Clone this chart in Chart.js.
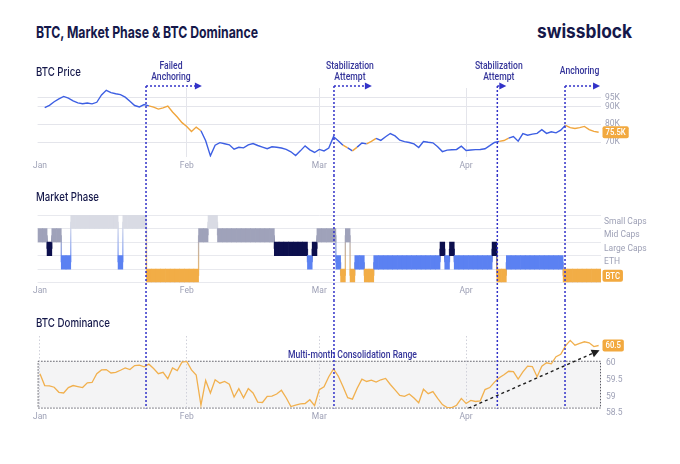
<!DOCTYPE html>
<html>
<head>
<meta charset="utf-8">
<script src="https://cdn.jsdelivr.net/npm/chart.js@4.4.1/dist/chart.umd.min.js"></script>
<style>
  html, body { margin: 0; padding: 0; background: #fff; }
  body { width: 680px; height: 464px; position: relative; overflow: hidden; font-family: Inter, Roboto, sans-serif; color: #15184a; }
  canvas { position: absolute; left: 0; }
  .txt { position: absolute; white-space: nowrap; transform-origin: left center; }
  #title { left: 36px; top: 24px; font-size: 16px; line-height: 16px; font-weight: 700; }
  #logo { left: 537px; top: 22px; font-size: 19px; line-height: 19px; font-weight: 700; }
  .ptitle { left: 36px; font-size: 12px; line-height: 12px; font-weight: 500; }
</style>
</head>
<body>
<canvas id="price" width="680" height="120" style="top:55px"></canvas>
<canvas id="phase" width="680" height="125" style="top:175px"></canvas>
<canvas id="dom" width="680" height="164" style="top:300px"></canvas>
<div id="title" class="txt" data-w="222">BTC, Market Phase &amp; BTC Dominance</div>
<div id="logo" class="txt" data-w="95">swissblock</div>
<div class="txt ptitle" style="top:66px" data-w="45">BTC Price</div>
<div class="txt ptitle" style="top:191px" data-w="63">Market Phase</div>
<div class="txt ptitle" style="top:317px" data-w="74">BTC Dominance</div>
<script>
// months on the shared day axis (day 0 = Jan 1)
const monthStarts = [0, 31, 59, 90];
const monthLabels = ["Jan", "Feb", "Mar", "Apr"];

// BTC price, thousands of USD, one per day (no print on day 0)
const priceK = [
  null, 89.3, 90.6, 92.6, 94.2, 95.6, 94.6, 93.1, 92.0, 91.5,
  91.9, 91.4, 92.3, 96.4, 99.0, 97.7, 97.1, 96.6, 95.2, 92.9,
  90.5, 89.7, 91.0, 90.3, 89.6, 88.5, 89.2, 90.2, 86.9, 84.1,
  80.9, 78.7, 75.9, 78.4, 76.4, 70.8, 62.3, 68.3, 69.7, 69.1,
  68.5, 66.0, 67.1, 66.8, 68.5, 69.2, 68.1, 67.2, 66.3, 67.4,
  67.1, 66.7, 65.9, 64.6, 62.5, 65.1, 67.9, 65.7, 64.2, 65.9,
  65.1, 66.7, 73.0, 70.8, 68.3, 66.8, 65.1, 67.2, 69.5, 69.0,
  70.4, 72.1, 71.0, 73.0, 74.8, 73.5, 71.1, 70.3, 69.8, 69.0,
  67.0, 70.3, 69.9, 69.6, 67.4, 64.7, 65.5, 65.7, 65.9, 67.7,
  65.3, 65.6, 65.8, 65.9, 66.3, 68.0, 69.8, 70.4, 70.9, 72.2,
  73.1, 70.5, 74.8, 73.9, 74.5, 74.9, 77.0, 74.9, 75.8, 75.2,
  76.7, 79.4, 78.1, 77.6, 78.1, 78.8, 77.0, 76.0, 75.5
];
const priceTicks = [70, 80, 90, 95];

// market phase per day: S small caps, M mid caps, L large caps, E ETH, B BTC
const phase = [
  "M","M","L","M","M","E","E","S","S","S",
  "S","S","S","S","S","S","S","E","S","S",
  "S","S","S","B","B","B","B","B","B","B",
  "B","B","B","B","M","M","S","S","M","M",
  "M","M","M","M","M","M","M","M","M","M",
  "L","L","L","L","L","L","L","E","L","M",
  "M","M","M","E","B","M","B","E","E","B",
  "B","E","E","E","E","E","E","E","E","E",
  "E","E","E","E","E","L","E","L","E","E",
  "E","E","E","E","E","E","L","B","B","E",
  "E","E","E","E","E","E","E","E","E","E",
  "E","B","B","B","B","B","B","B","B"
];
const phaseCodes = ["B", "E", "L", "M", "S"];
const phaseRows = ["BTC", "ETH", "Large Caps", "Mid Caps", "Small Caps"];

// BTC dominance, %, one per day
const dominance = [
  59.67, 59.32, 59.31, 59.27, 59.12, 59.10, 59.26, 59.32, 59.29, 59.26,
  59.40, 59.41, 59.67, 59.78, 59.79, 59.69, 59.71, 59.77, 59.84, 59.79,
  59.91, 59.92, 59.87, 59.95, 59.82, 59.67, 59.71, 59.52, 59.84, 59.76,
  60.01, 60.03, 59.78, 59.63, 58.74, 59.47, 59.10, 59.49, 59.39, 59.44,
  59.36, 58.98, 59.23, 58.96, 59.23, 59.10, 58.83, 58.82, 59.00, 59.01,
  59.07, 59.18, 58.96, 58.70, 58.74, 58.78, 58.79, 58.90, 58.73, 59.20,
  59.28, 59.58, 59.81, 59.60, 59.29, 58.96, 58.92, 59.24, 59.51, 59.44,
  59.48, 59.42, 59.49, 59.53, 59.35, 59.19, 59.03, 59.00, 59.07, 58.95,
  58.81, 59.21, 59.08, 59.14, 58.94, 58.76, 58.67, 58.67, 58.74, 58.94,
  58.79, 58.88, 58.85, 58.87, 59.20, 59.26, 59.42, 59.55, 59.64, 59.74,
  59.73, 59.51, 59.72, 59.89, 59.88, 59.58, 59.89, 59.99, 59.96, 60.17,
  60.24, 60.49, 60.65, 60.51, 60.56, 60.61, 60.58, 60.47, 60.5
];
const domTicks = [58.5, 59, 59.5, 60];
const rangeLow = 58.67;
const rangeHigh = 60.05;
const rangeLabel = "Multi-month Consolidation Range";
const rangeLabelDay = 66;
const trendLine = [{x: 90.5, y: 58.65}, {x: 118.2, y: 60.36}];

// regime calls: start day of the guide line, end day of the arrow
const calls = [
  {from: 22.4, to: 34.2, text: ["Failed", "Anchoring"]},
  {from: 62.1, to: 70.1, text: ["Stabilization", "Attempt"]},
  {from: 96.6, to: 98.5, text: ["Stabilization", "Attempt"]},
  {from: 110.9, to: 118.3, text: ["Anchoring"]},
];

const days = priceK.map((_, i) => i);

const blue = "#3d5fe3";
const orange = "#f0a53c";
const domOrange = "#f1b04e";
const badgeOrange = "#f2a93f";
const guideBlue = "#3232c8";
const calloutText = "#34349a";
const tickGrey = "#9ea1b6";
const gridGrey = "#e4e5eb";
const phaseColors = {S: "#d9dbe4", M: "#9fa2ba", L: "#0c0f4d", E: "#5b81f2", B: "#f2ad46"};
const condense = 0.86;

Chart.defaults.font.family = "Roboto";
Chart.defaults.font.size = 8.5;
Chart.defaults.color = tickGrey;

function squeezedText(ctx, text, x, y) {
    ctx.save();
    ctx.translate(x, y);
    ctx.scale(condense, 1);
    ctx.textAlign = "center";
    ctx.fillText(text, 0, 0);
    ctx.restore();
}

function xAxis(grid, dash) {
    return {
        type: "linear",
        min: -0.5,
        max: 118.5,
        offset: false,
        afterBuildTicks: (s) => { s.ticks = monthStarts.map((v) => ({value: v})); },
        ticks: {
            autoSkip: false,
            maxRotation: 0,
            padding: 3,
            callback: (v) => monthLabels[monthStarts.indexOf(v)],
        },
        grid: Object.assign({display: false, drawTicks: false, offset: false}, grid || {}),
        border: {display: false, dash: dash || []},
    };
}

const fixWidth = (s) => { s.width = 79; };

function guides(getTop, getBottom, withCalls) {
    return {
        id: "guides",
        afterDraw(chart) {
            const {ctx, scales: {x}} = chart;
            const top = getTop(chart);
            const bottom = getBottom(chart);
            ctx.save();
            ctx.strokeStyle = guideBlue;
            ctx.fillStyle = guideBlue;
            ctx.lineWidth = 1.5;
            calls.forEach((c) => {
                const px = x.getPixelForValue(c.from);
                ctx.setLineDash([2, 2]);
                ctx.beginPath();
                ctx.moveTo(px, top);
                ctx.lineTo(px, bottom);
                ctx.stroke();
                if (!withCalls) return;
                const tip = x.getPixelForValue(c.to);
                ctx.beginPath();
                ctx.moveTo(px, top);
                ctx.lineTo(tip - 6, top);
                ctx.stroke();
                ctx.setLineDash([]);
                ctx.beginPath();
                ctx.moveTo(tip, top);
                ctx.lineTo(tip - 7, top - 3.5);
                ctx.lineTo(tip - 7, top + 3.5);
                ctx.closePath();
                ctx.fill();
                ctx.save();
                ctx.fillStyle = calloutText;
                ctx.font = "500 10px Roboto";
                ctx.textBaseline = "middle";
                const cx = (px + tip) / 2 - 3;
                const n = c.text.length;
                c.text.forEach((t, i) => squeezedText(ctx, t, cx, top - 14.5 + (i - (n - 1) / 2) * 11));
                ctx.restore();
            });
            ctx.restore();
        },
    };
}

function endBadge(getValue, text) {
    return {
        id: "endBadge",
        afterDraw(chart) {
            const {ctx, chartArea, scales: {y}} = chart;
            const cy = y.getPixelForValue(getValue());
            ctx.save();
            ctx.font = "500 9px Roboto";
            const w = ctx.measureText(text).width * condense + 6;
            const h = 12;
            const x0 = chartArea.right + 1.5;
            ctx.fillStyle = badgeOrange;
            ctx.beginPath();
            ctx.roundRect(x0, cy - h / 2, w, h, 2);
            ctx.fill();
            ctx.fillStyle = "#fff";
            ctx.textBaseline = "middle";
            squeezedText(ctx, text, x0 + w / 2, cy + 0.5);
            ctx.restore();
        },
    };
}

const baseOptions = (padding) => ({
    responsive: false,
    animation: false,
    events: [],
    layout: {padding},
    plugins: {legend: {display: false}, tooltip: {enabled: false}},
});

// ---- BTC price ----
new Chart(document.getElementById("price"), {
    type: "line",
    data: {
        datasets: [{
            data: days.map((d) => ({x: d, y: priceK[d]})),
            borderColor: blue,
            borderWidth: 1.4,
            pointRadius: 0,
            segment: {
                borderColor: (c) => (phase[c.p0DataIndex] === "B" ? orange : blue),
            },
        }],
    },
    options: Object.assign(baseOptions({left: 37.6, top: 33, right: 0, bottom: 1.5}), {
        scales: {
            x: xAxis({display: true, color: (c) => (c.tick && c.tick.value === 0 ? "rgba(0,0,0,0)" : gridGrey)}),
            y: {
                position: "right",
                min: 61.5,
                max: 100.3,
                afterBuildTicks: (s) => { s.ticks = priceTicks.map((v) => ({value: v})); },
                afterFit: fixWidth,
                ticks: {padding: 4, autoSkip: false, callback: (v) => v + "K"},
                grid: {color: gridGrey, drawTicks: false},
                border: {display: false},
            },
        },
    }),
    plugins: [
        guides((c) => c.chartArea.top - 2, (c) => c.height, true),
        endBadge(() => priceK[priceK.length - 1], priceK[priceK.length - 1] + "K"),
    ],
});

// ---- market phase ----
const rowOf = (p) => phaseCodes.indexOf(p);

const phaseLinks = {
    id: "phaseLinks",
    beforeDatasetsDraw(chart) {
        const {ctx, scales: {x, y}} = chart;
        ctx.save();
        ctx.lineWidth = 1.3;
        ctx.globalAlpha = 0.85;
        for (let i = 1; i < phase.length; i++) {
            const a = phase[i - 1];
            const b = phase[i];
            if (a === b) continue;
            const px = x.getPixelForValue(i - 0.5);
            const ya = y.getPixelForValue(rowOf(a) + 0.5);
            const yb = y.getPixelForValue(rowOf(b) + 0.5);
            const g = ctx.createLinearGradient(0, ya, 0, yb);
            g.addColorStop(0, phaseColors[a]);
            g.addColorStop(1, phaseColors[b]);
            ctx.strokeStyle = g;
            ctx.beginPath();
            ctx.moveTo(px, ya);
            ctx.lineTo(px, yb);
            ctx.stroke();
        }
        ctx.restore();
    },
};

new Chart(document.getElementById("phase"), {
    type: "bar",
    data: {
        datasets: [{
            data: phase.map((p, i) => ({x: i, y: [rowOf(p), rowOf(p) + 1]})),
            backgroundColor: phase.map((p) => phaseColors[p]),
            borderWidth: 0,
            barPercentage: 1,
            categoryPercentage: 1,
            grouped: false,
        }],
    },
    options: Object.assign(baseOptions({left: 37.6, top: 40, right: 0, bottom: 1.2}), {
        scales: {
            x: xAxis(),
            y: {
                position: "right",
                min: 0,
                max: 5,
                afterBuildTicks: (s) => {
                    s.ticks = phaseRows.flatMap((_, r) => [r, r + 0.5]).concat([5]).map((v) => ({value: v}));
                },
                afterFit: fixWidth,
                ticks: {
                    padding: 3,
                    autoSkip: false,
                    callback: (v) => {
                        if (Number.isInteger(v)) return "";
                        const name = phaseRows[Math.floor(v)];
                        return name === "BTC" ? "" : name;
                    },
                },
                grid: {
                    color: (c) => (c.tick && Number.isInteger(c.tick.value) ? "#e8e9ee" : "rgba(0,0,0,0)"),
                    drawTicks: false,
                },
                border: {display: false},
            },
        },
    }),
    plugins: [
        phaseLinks,
        guides(() => 0, (c) => c.height, false),
        endBadge(() => 0.5, "BTC"),
    ],
});

// ---- BTC dominance ----
const rangeBox = {
    id: "rangeBox",
    beforeDraw(chart) {
        const {ctx, chartArea, scales: {x, y}} = chart;
        const yTop = y.getPixelForValue(rangeHigh);
        const yBot = y.getPixelForValue(rangeLow);
        ctx.save();
        ctx.fillStyle = "#f4f4f5";
        ctx.fillRect(chartArea.left, yTop, chartArea.right - chartArea.left, yBot - yTop);
        ctx.strokeStyle = "#5c5c66";
        ctx.lineWidth = 1;
        ctx.setLineDash([1.5, 1.5]);
        ctx.strokeRect(chartArea.left + 0.5, yTop + 0.5, chartArea.right - chartArea.left - 1, yBot - yTop);
        ctx.fillStyle = calloutText;
        ctx.font = "500 10px Roboto";
        ctx.textBaseline = "alphabetic";
        squeezedText(ctx, rangeLabel, x.getPixelForValue(rangeLabelDay), yTop - 2.5);
        ctx.restore();
    },
};

const trendHead = {
    id: "trendHead",
    afterDatasetsDraw(chart) {
        const pts = chart.getDatasetMeta(1).data;
        const p0 = pts[0];
        const p1 = pts[pts.length - 1];
        const ang = Math.atan2(p1.y - p0.y, p1.x - p0.x);
        const {ctx} = chart;
        ctx.save();
        ctx.translate(p1.x, p1.y);
        ctx.rotate(ang);
        ctx.fillStyle = "#1e1e1e";
        ctx.beginPath();
        ctx.moveTo(0, 0);
        ctx.lineTo(-8, -4);
        ctx.lineTo(-8, 4);
        ctx.closePath();
        ctx.fill();
        ctx.restore();
    },
};

new Chart(document.getElementById("dom"), {
    type: "line",
    data: {
        datasets: [
            {
                data: days.map((d) => ({x: d, y: dominance[d]})),
                borderColor: domOrange,
                borderWidth: 1.3,
                pointRadius: 0,
            },
            {
                data: trendLine,
                borderColor: "#1e1e1e",
                borderWidth: 1.4,
                borderDash: [3, 3],
                pointRadius: 0,
            },
        ],
    },
    options: Object.assign(baseOptions({left: 37.6, top: 36, right: 0, bottom: 39.2}), {
        scales: {
            x: xAxis({display: true, color: "#d0d1da"}, [1.5, 2]),
            y: {
                position: "right",
                min: 58.64,
                max: 60.78,
                afterBuildTicks: (s) => { s.ticks = domTicks.map((v) => ({value: v})); },
                afterFit: fixWidth,
                ticks: {padding: 5, autoSkip: false, callback: (v) => String(v)},
                grid: {display: false, drawTicks: false},
                border: {display: false},
            },
        },
    }),
    plugins: [
        rangeBox,
        trendHead,
        guides(() => 0, (c) => c.chartArea.bottom, false),
        endBadge(() => dominance[dominance.length - 1], String(dominance[dominance.length - 1])),
    ],
});

// squeeze the headings to the reference widths
function fitText() {
    document.querySelectorAll("[data-w]").forEach((el) => {
        el.style.transform = "none";
        const w = el.getBoundingClientRect().width;
        el.style.transform = "scaleX(" + (el.dataset.w / w) + ")";
    });
}
fitText();
if (document.fonts) document.fonts.ready.then(fitText);
</script>
</body>
</html>
